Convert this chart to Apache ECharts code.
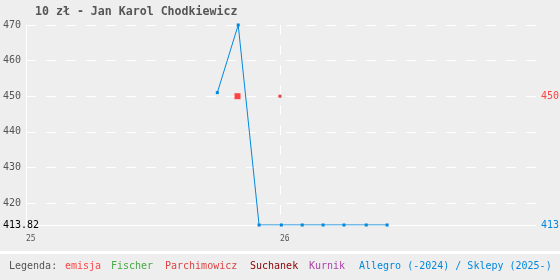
<!DOCTYPE html>
<html><head><meta charset="utf-8">
<script src="https://cdn.jsdelivr.net/npm/echarts@6/dist/echarts.min.js"></script>
<style>html,body{margin:0;padding:0;background:#eeeeee}#c{width:560px;height:280px}</style>
</head><body><div id="c"></div>
<script>
const titleText = '10 zł - Jan Karol Chodkiewicz';
const allegroDates = ['2025-10-03','2025-11-02','2025-12-02','2026-01-03','2026-02-02','2026-03-04','2026-04-03','2026-05-05','2026-06-04'];
const allegroValues = [451, 470, 413.82, 413.82, 413.82, 413.82, 413.82, 413.82, 413.82];
const emisjaDates = ['2025-11-01'];
const emisjaValues = [450];
const parchDates = ['2026-01-01'];
const parchValues = [450];
const yTicks = [413.82, 420, 430, 440, 450, 460, 470];
const gridValues = [420, 430, 440, 450, 460, 470];
const rightLabels = [413.82, 450];
const rightColors = ['#0088dd', '#ff4444'];
const yearTicks = ['2025-01-01', '2026-01-01'];
const legendItems = [
  {text: 'Legenda:', color: '#555555'},
  {text: 'emisja', color: '#ff4444'},
  {text: 'Fischer', color: '#44aa44'},
  {text: 'Parchimowicz', color: '#dd4444'},
  {text: 'Suchanek', color: '#880000'},
  {text: 'Kurnik', color: '#aa44aa'},
  {text: 'Allegro (-2024) / Sklepy (2025-)', color: '#0088dd'}
];
const legendX = [9, 65, 111, 165, 250, 309, 359];

const FONT = '"DejaVu Sans Mono", monospace';
const tsLocal = s => new Date(s + 'T00:00:00').getTime();
const xMin = tsLocal('2025-01-01');
const xMax = xMin + 733 * 86400000;

const chart = echarts.init(document.getElementById('c'), null, {renderer: 'canvas'});
const pairs = (d, v) => d.map((x, i) => [tsLocal(x), v[i]]);

const gridLine = {color: '#ffffff', width: 1, type: [10, 10]};

chart.setOption({
  animation: false,
  backgroundColor: '#eeeeee',
  textStyle: {fontFamily: FONT},
  title: {
    text: titleText, left: 30, top: 1,
    textStyle: {fontFamily: FONT, fontSize: 11.6, fontWeight: 'bold', color: '#555555'}
  },
  grid: {left: 26, right: 24, top: 25, bottom: 55, containLabel: false, outerBoundsMode: 'none'},
  xAxis: {
    type: 'value', min: xMin, max: xMax,
    axisLine: {show: true, lineStyle: {color: '#ffffff', width: 1}},
    axisTick: {show: false, customValues: [tsLocal('2026-01-01')]},
    splitLine: {show: true, lineStyle: gridLine},
    axisLabel: {
      customValues: yearTicks.map(tsLocal),
      formatter: v => String(new Date(v).getFullYear()).slice(2),
      align: 'left', fontSize: 8, color: '#555555', margin: 10, fontFamily: FONT
    }
  },
  yAxis: [{
    type: 'value', min: 413.82, max: 470,
    axisLine: {show: true, lineStyle: {color: '#ffffff', width: 1}},
    axisTick: {show: false, customValues: gridValues},
    splitLine: {show: true, lineStyle: gridLine},
    axisLabel: {
      customValues: yTicks,
      formatter: v => String(v),
      align: 'left', margin: 23, fontSize: 10, fontFamily: FONT,
      verticalAlign: 'middle', padding: [8, 0, 0, 0],
      color: (v) => (Math.abs(v - 413.82) < 0.001 ? '#000000' : '#555555')
    }
  }, {
    type: 'value', min: 413.82, max: 470, position: 'right',
    axisLine: {show: false}, axisTick: {show: false}, splitLine: {show: false},
    axisLabel: {
      customValues: rightLabels,
      formatter: v => String(v),
      align: 'left', margin: 5, fontSize: 10, fontFamily: FONT,
      verticalAlign: 'middle', padding: [8, 0, 0, 0],
      color: (v) => rightColors[rightLabels.findIndex(r => Math.abs(r - v) < 0.001)] || '#555555'
    }
  }],
  graphic: [
    {type: 'rect', left: 0, top: 251, shape: {width: 560, height: 3}, style: {fill: '#ffffff'}, silent: true}
  ].concat(legendItems.map((it, i) => ({
    type: 'text', left: legendX[i], top: 261,
    style: {text: it.text, fill: it.color, font: '10px ' + FONT}
  }))),
  series: [
    {
      name: 'Allegro', type: 'line', z: 3,
      data: pairs(allegroDates, allegroValues),
      symbol: 'rect', symbolSize: 3, showSymbol: true,
      itemStyle: {color: '#0088dd', opacity: 1},
      lineStyle: {color: '#0088dd', width: 1}
    },
    {
      name: 'emisja', type: 'scatter', z: 4,
      data: pairs(emisjaDates, emisjaValues),
      symbol: 'rect', symbolSize: 6,
      itemStyle: {color: '#ff4444', opacity: 1}
    },
    {
      name: 'Parchimowicz', type: 'scatter', z: 4,
      data: pairs(parchDates, parchValues),
      symbol: 'rect', symbolSize: 3,
      itemStyle: {color: '#dd4444', opacity: 1}
    }
  ]
});
</script></body></html>
